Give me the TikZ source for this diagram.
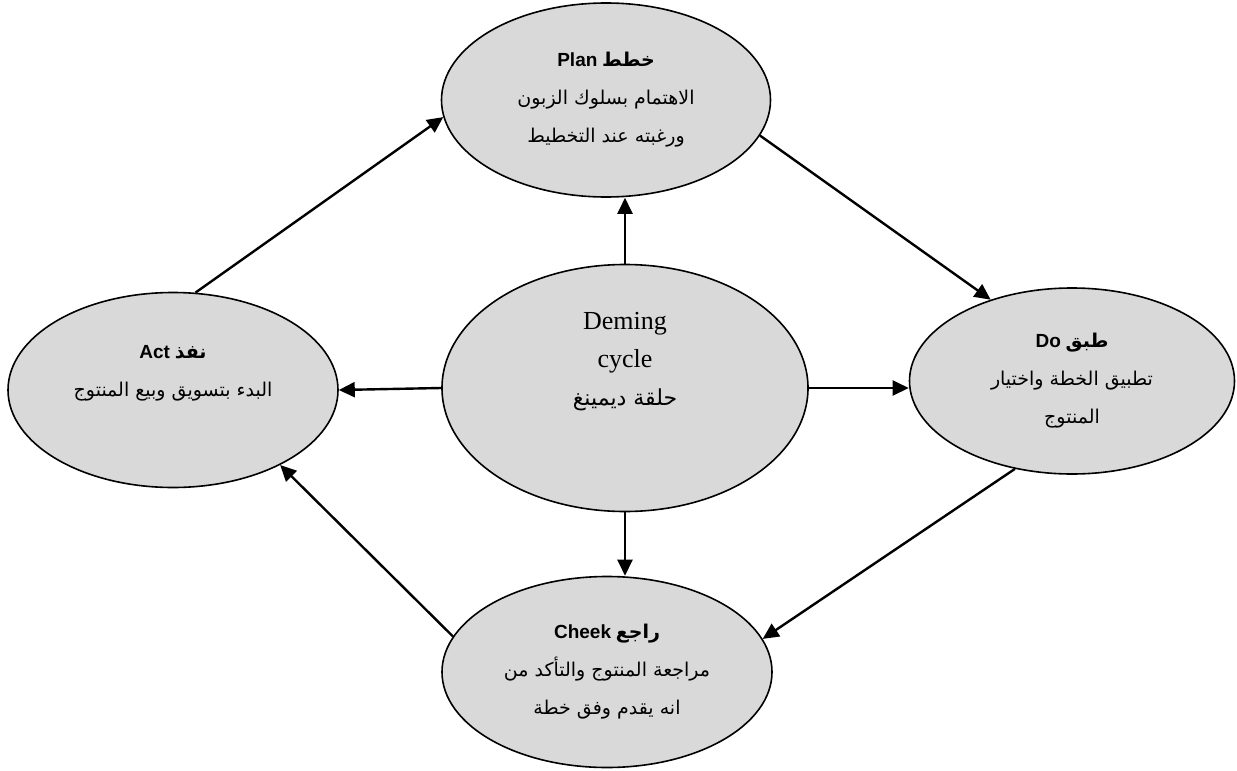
\documentclass[tikz,border=0pt]{standalone}
\usepackage{fontspec}
\setmainfont{Liberation Serif}
\setsansfont{Liberation Sans}
\newfontfamily\arabicfont[Script=Arabic]{DejaVu Sans}
\TeXXeTstate=1
\usetikzlibrary{shapes.geometric, arrows.meta}
\tikzstyle{phase} = [ellipse, inner sep=0pt, align=center, draw=black, line width=0.8pt, fill=black!15, font=\fontsize{9.5pt}{19pt}\selectfont]
\tikzstyle{edge} = [line width=1.2pt, -{Triangle[length=8pt, width=7.5pt]}]
\newcommand{\ar}[1]{{\arabicfont\beginR #1\endR}}
\newcommand{\phasetitle}[2]{\beginR{\arabicfont\bfseries #1} {\sffamily\bfseries #2}\endR}

\begin{document}
\begin{tikzpicture}[x=0.5pt, y=-0.5pt, node distance=143pt]
\useasboundingbox (0,0) rectangle (1237,771);

\node (cycle) [phase, minimum width=183pt, minimum height=123.5pt] at (625,388) {{\fontsize{13pt}{16pt}\selectfont Deming}\\{\fontsize{13pt}{16pt}\selectfont cycle}\\{\fontsize{11pt}{19pt}\selectfont\ar{حلقة ديمينغ}}\\\rule{0pt}{25pt}};
\node (plan) [phase, minimum width=164.5pt, minimum height=97pt, above of=cycle, xshift=-9.5pt, yshift=1pt] {\phasetitle{خطط}{Plan}\\\ar{الاهتمام بسلوك الزبون}\\\ar{ورغبته عند التخطيط}};
\node (do) [phase, minimum width=162.5pt, minimum height=93pt, right of=cycle, xshift=80.5pt, yshift=3.5pt] {\phasetitle{طبق}{Do}\\\ar{تطبيق الخطة واختيار}\\\ar{المنتوج}};
\node (check) [phase, minimum width=165pt, minimum height=95.5pt, below of=cycle, xshift=-9pt, yshift=1pt] {\phasetitle{راجع}{Cheek}\\\ar{مراجعة المنتوج والتأكد من}\\\ar{انه يقدم وفق خطة}};
\node (act) [phase, minimum width=165pt, minimum height=97.5pt, left of=cycle, xshift=-83pt, yshift=-1pt] {\phasetitle{نفذ}{Act}\\\ar{البدء بتسويق وبيع المنتوج}\\\mbox{}};

\draw [edge] (cycle.north) -- (cycle.north |- plan.south);
\draw [edge] (cycle.west) -- (act.east);
\draw [edge] (cycle.east) -- (cycle.east -| do.west);
\draw [edge] (cycle.south) -- (cycle.south |- check.north);
\draw [edge] (plan.-13) -- (do.135);
\draw [edge] (do.237) -- (check.12);
\draw [edge] (check.167) -- (act.-35);
\draw [edge] (act.77) -- (plan.186);

\end{tikzpicture}
\end{document}
